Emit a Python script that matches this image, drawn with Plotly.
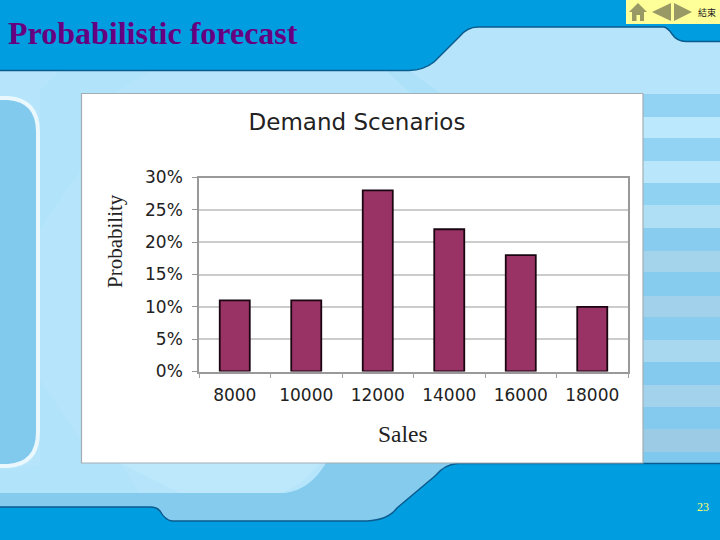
import re
import plotly.graph_objects as go

W, H = 720, 540

sales = ["8000", "10000", "12000", "14000", "16000", "18000"]
probability = [0.11, 0.11, 0.28, 0.22, 0.18, 0.10]
y_ticks = [0, 0.05, 0.10, 0.15, 0.20, 0.25, 0.30]
y_tick_labels = ["0%", "5%", "10%", "15%", "20%", "25%", "30%"]


def fx(x):
    return x / W


def fy(y):
    return 1 - y / H


def path(d):
    """Pixel-space SVG path -> paper-space path (decoration only)."""
    toks = re.findall(r"[A-Za-z]|-?\d+\.?\d*", d)
    out, is_x = [], True
    for t in toks:
        if t.isalpha():
            out.append(t)
            is_x = True
        else:
            v = float(t)
            out.append(f"{fx(v):.5f}" if is_x else f"{fy(v):.5f}")
            is_x = not is_x
    return " ".join(out)


def deco(d, fill, line=None, lw=0):
    return dict(type="path", xref="paper", yref="paper", layer="below", path=path(d),
                fillcolor=fill, line=dict(color=line or "rgba(0,0,0,0)", width=lw))


def box(x0, y0, x1, y1, fill, line=None, lw=0):
    return dict(type="rect", xref="paper", yref="paper", layer="below",
                x0=fx(x0), x1=fx(x1), y0=fy(y0), y1=fy(y1), fillcolor=fill,
                line=dict(color=line or "rgba(0,0,0,0)", width=lw))


BLUE = "#009EE0"
EDGE = "#0B5C8E"
MID = "#84CBEE"
LIGHT = "#B6E5FB"
OLIVE = "#999966"

shapes = []
# soft wedges in the light background
shapes.append(deco("M 60 71 L 150 71 L 115 93 L 81 170 L 40 230 L 40 90 Z", "rgba(165,222,248,0.3)"))
shapes.append(deco("M 40 380 L 81 440 L 81 463 L 120 463 L 140 493 L 0 493 L 0 470 L 40 465 Z",
                   "rgba(165,222,248,0.3)"))
shapes.append(deco("M 375 60 L 395 60 L 440 93 L 410 93 Z", "rgba(150,215,245,0.3)"))
shapes.append(deco("M 120 463 L 320 463 Q 300 488 280 493 L 180 493 Z", "rgba(205,238,253,0.3)"))
# lower medium-blue band
shapes.append(deco("M 0 493 L 285 493 Q 310 490 326 463 L 460 463 L 460 530 L 0 530 Z", MID))
# right stripes
dark = [(94, 117, "#92D3F3"), (138, 161, "#92D3F3"), (183, 205, "#90D2F2"), (228, 251, "#88CDF0"),
        (272, 296, "#86CCEF"), (317, 340, "#88CDF0"), (362, 385, "#83CAEE"), (407, 429, "#83CAEE"),
        (452, 464, "#7FC8EE")]
light = [(117, 138, "#BCE8FD"), (161, 183, "#BAE6FB"), (205, 228, "#AEDFF5"), (251, 272, "#A4D3EC"),
         (296, 317, "#A2D1EB"), (340, 362, "#A8D8F0"), (385, 407, "#A2D2EC"), (429, 452, "#9CCBE6")]
for y0, y1, c in dark + light:
    shapes.append(box(640, y0, 720, y1, c))
# left rounded panel
shapes.append(deco("M -10 98 L 8 98 Q 38 100 38 132 L 38 432 Q 38 464 8 466 L -10 466 Z",
                   "#82C9EE", "#EAF8FE", 4))
# top blue area
shapes.append(deco("M -5 -5 L -5 70.5 L 409 70.5 Q 424 70 434 62 L 459 37 Q 467 27 478 27 L 664 27 "
                   "Q 668 28 672 34 Q 677 41.5 686 41.5 L 725 41.5 L 725 -5 Z", BLUE, EDGE, 1.5))
# bottom blue area
shapes.append(deco("M 725 463.5 L 458 463.5 Q 445 464 435 476 L 397 508 Q 388 520 367 521 L 172 521 "
                   "Q 165 520 160 511 Q 157 507 150 507 L -5 507 L -5 545 L 725 545 Z", BLUE, EDGE, 1.5))
# white card
shapes.append(box(81.5, 93.5, 643, 463, "#FFFFFF", "#A3AEB3", 1.2))
# navigation box
shapes.append(box(626, 0, 720, 24, "#FFFF99"))
shapes.append(deco("M 638 3 L 629 12 L 647 12 Z", OLIVE))
shapes.append(box(632, 12, 644, 21, OLIVE))
shapes.append(box(636.5, 15, 640, 21, "#FFFF99"))
shapes.append(deco("M 652 12 L 671 3 L 671 21 Z", OLIVE))
shapes.append(deco("M 692 12 L 674 3 L 674 21 Z", OLIVE))


def note(text, x, y, size, color, family, bold=False, xanchor="center", angle=0):
    return dict(text=f"<b>{text}</b>" if bold else text, x=fx(x), y=fy(y), xref="paper", yref="paper",
                xanchor=xanchor, yanchor="middle", showarrow=False, textangle=angle,
                font=dict(size=size, color=color, family=family))


annotations = [
    note("Probabilistic forecast", 6, 33, 32, "#660080", "Liberation Serif", True, "left"),
    note("結束", 707, 13, 9, "#222222", "Noto Sans CJK TC"),
    note("23", 703, 507, 12, "#FFFF66", "Liberation Serif"),
    note("Sales", 403, 434, 23.5, "#222222", "Liberation Serif"),
    note("Probability", 115, 241, 21, "#222222", "Liberation Serif", angle=-90),
]

fig = go.Figure(go.Bar(x=sales, y=probability, width=0.42,
                       marker=dict(color="#993366", line=dict(color="#1A0510", width=1.8))))

fig.update_layout(
    width=W, height=H, autosize=False,
    margin=dict(l=0, r=0, t=0, b=0),
    paper_bgcolor=LIGHT, plot_bgcolor="rgba(0,0,0,0)",
    showlegend=False, bargap=0.58,
    shapes=shapes, annotations=annotations,
    title=dict(text="Demand Scenarios", x=fx(357), y=fy(122), xanchor="center", yanchor="middle",
               xref="paper", yref="paper",
               font=dict(size=23, color="#222222", family="DejaVu Sans")),
    xaxis=dict(domain=[fx(199), fx(628)], type="category", tickmode="array",
               tickvals=sales, ticktext=sales, tickson="boundaries",
               ticks="outside", ticklen=5, tickcolor="#A0A0A0", tickwidth=1,
               showline=True, mirror=True, linecolor="#999999", linewidth=1.5,
               showgrid=False, automargin=False, ticklabelstandoff=7,
               tickfont=dict(size=17, color="#222222", family="DejaVu Sans")),
    yaxis=dict(domain=[fy(371.5), fy(177.5)], range=[0, 0.30], tickmode="array",
               tickvals=y_ticks, ticktext=y_tick_labels,
               ticks="outside", ticklen=5, tickcolor="#999999", tickwidth=1,
               showline=True, mirror=True, linecolor="#999999", linewidth=1.5,
               showgrid=True, gridcolor="#CCCCCC", gridwidth=1.5, zeroline=False,
               ticklabelstandoff=6, automargin=False,
               tickfont=dict(size=17, color="#222222", family="DejaVu Sans")),
)

fig.write_html("out.html", config=dict(displayModeBar=False),
               post_script="document.body.style.margin='0';")
